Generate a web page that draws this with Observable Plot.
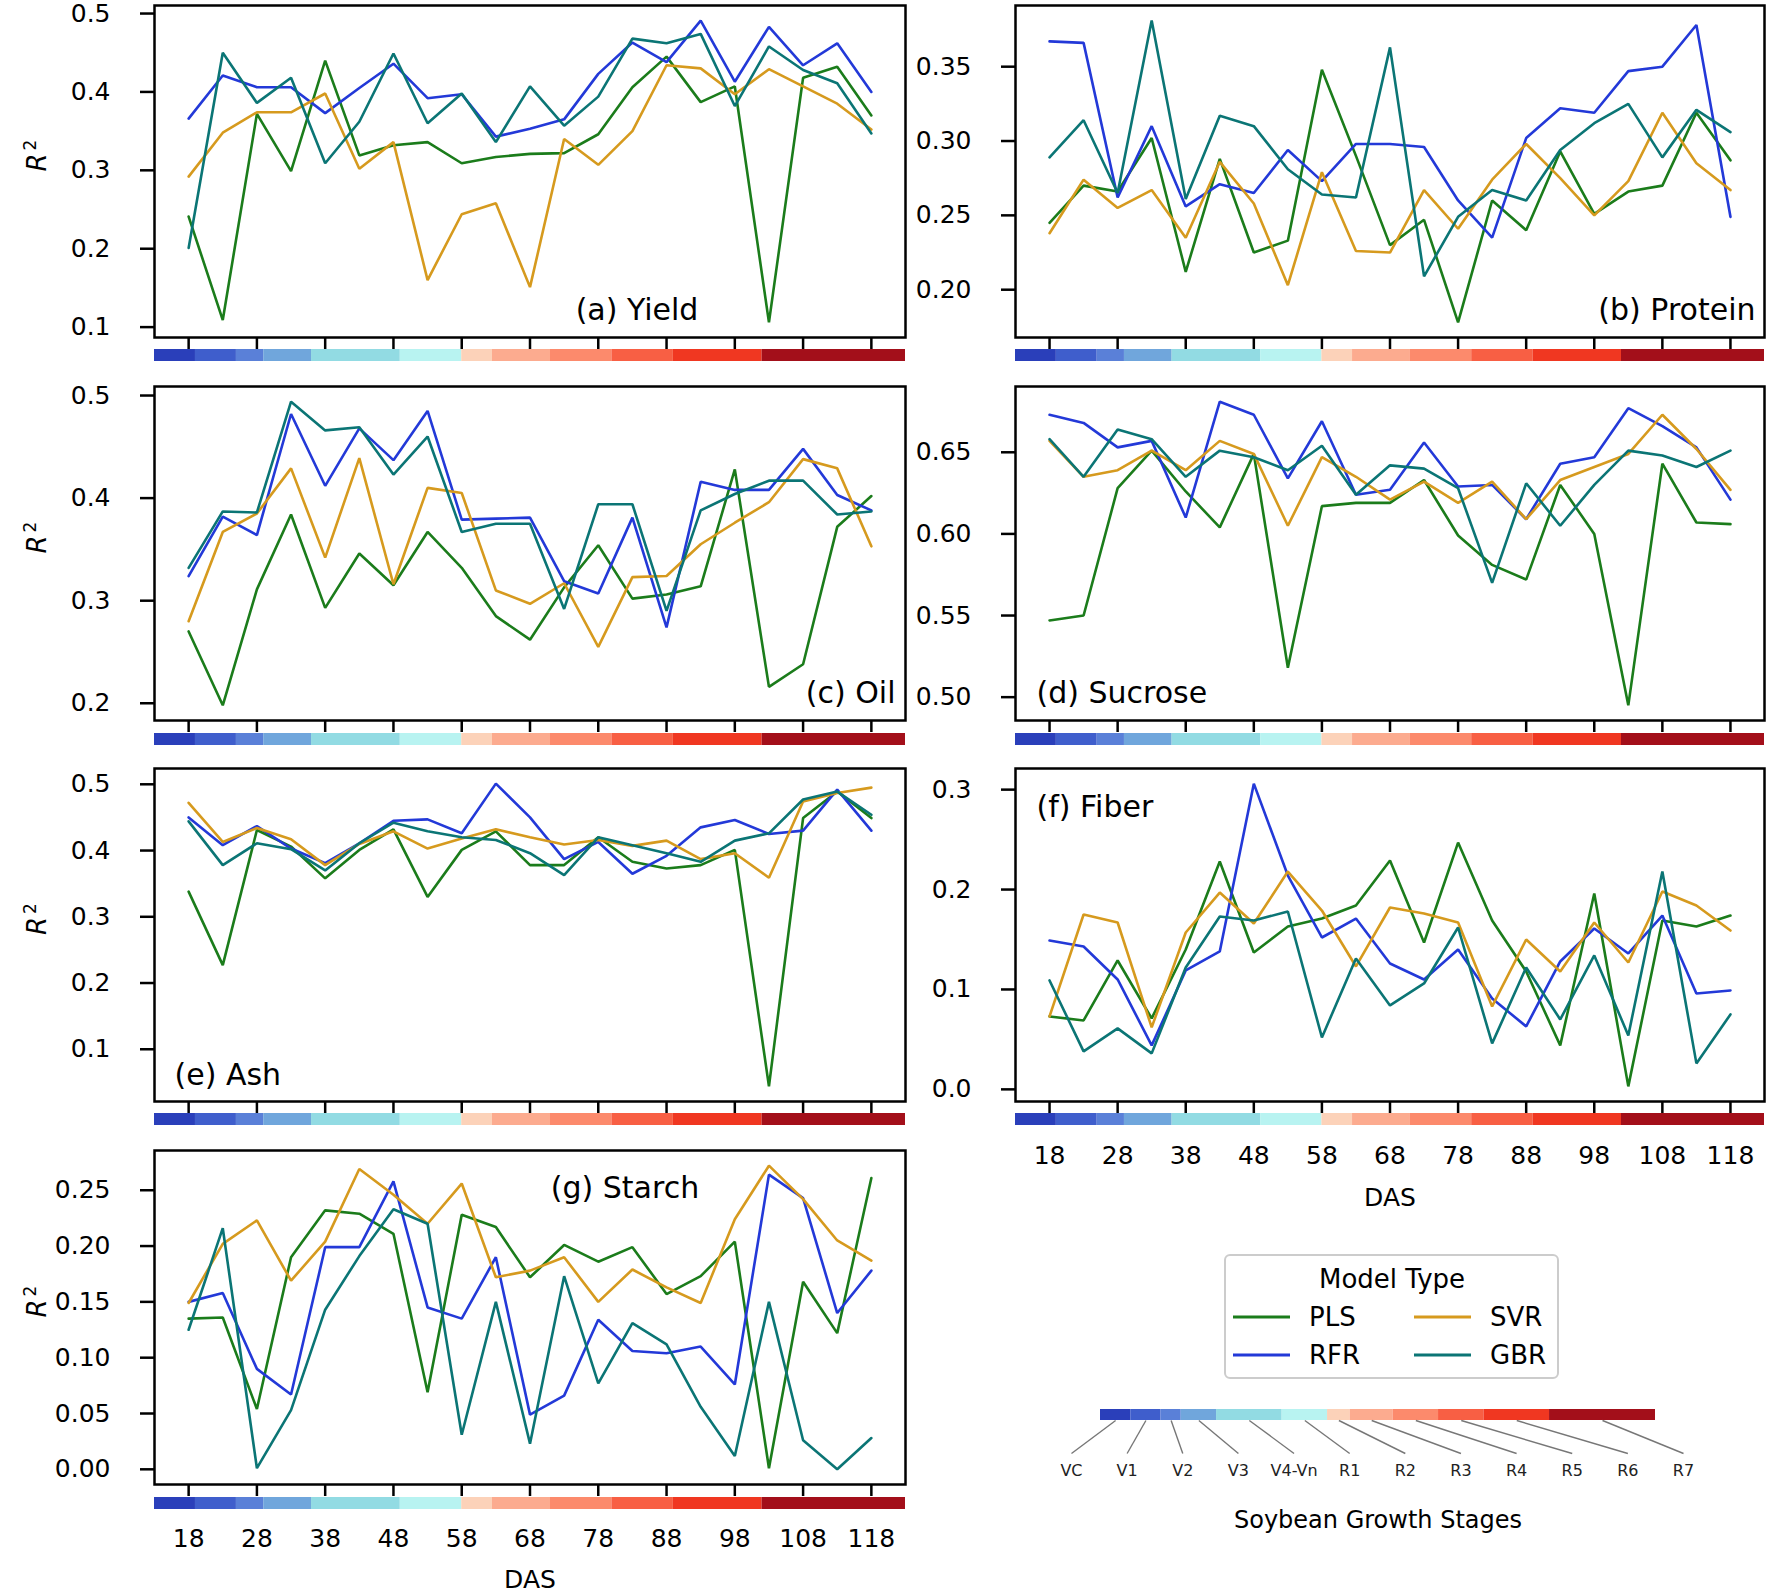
<!DOCTYPE html>
<html><head><meta charset="utf-8">
<script src="https://cdn.jsdelivr.net/npm/d3@7"></script>
<script src="https://cdn.jsdelivr.net/npm/@observablehq/plot@0.6"></script>
<style>
html,body{margin:0;padding:0;background:#fff;}
#fig{position:relative;width:1770px;height:1594px;background:#fff;font-family:"DejaVu Sans",sans-serif;overflow:hidden;}
</style></head><body><div id="fig"></div>
<script>
// ---------- data ----------
const das = [18,23,28,33,38,43,48,53,58,63,68,73,78,83,88,93,98,103,108,113,118];
const xTicks = [18,28,38,48,58,68,78,88,98,108,118];
const models = ["PLS","RFR","SVR","GBR"];
const modelColors = ["#1b7c1b","#2339d8","#d69a1e","#0b7575"];

const stages = ["VC","V1","V2","V3","V4-Vn","R1","R2","R3","R4","R5","R6","R7"];
const stageStart = [13,19,25,29,36,49,58,62.5,71,80,89,102];
const stageEnd   = [19,25,29,36,49,58,62.5,71,80,89,102,123];
const stageColors = ["#2a3fba","#3f5ecc","#5a80d8","#70a6dc","#92dbe3","#b8f3f1","#fcd2b9","#fcab8f","#fc8a6c","#f85f44","#f03721","#a30f1a"];

const yieldPLS = [0.241,0.109,0.372,0.299,0.440,0.319,0.332,0.336,0.309,0.317,0.321,0.322,0.346,0.406,0.445,0.387,0.407,0.106,0.418,0.432,0.370];
const yieldRFR = [0.366,0.421,0.406,0.406,0.373,0.405,0.436,0.392,0.397,0.343,0.353,0.365,0.423,0.463,0.438,0.491,0.413,0.483,0.434,0.462,0.400];
const yieldSVR = [0.292,0.348,0.374,0.374,0.398,0.302,0.336,0.160,0.244,0.258,0.151,0.340,0.307,0.350,0.434,0.430,0.397,0.429,0.407,0.385,0.352];
const yieldGBR = [0.201,0.450,0.386,0.418,0.309,0.362,0.449,0.360,0.398,0.336,0.407,0.357,0.394,0.468,0.462,0.474,0.382,0.458,0.428,0.411,0.347];

const proteinPLS = [0.245,0.270,0.266,0.302,0.212,0.288,0.225,0.233,0.348,0.290,0.230,0.247,0.178,0.260,0.240,0.293,0.251,0.266,0.270,0.319,0.287];
const proteinRFR = [0.367,0.366,0.262,0.310,0.256,0.271,0.265,0.294,0.273,0.298,0.298,0.296,0.260,0.235,0.302,0.322,0.319,0.347,0.350,0.378,0.249];
const proteinSVR = [0.238,0.274,0.255,0.267,0.235,0.286,0.258,0.203,0.279,0.226,0.225,0.267,0.241,0.274,0.298,0.275,0.250,0.273,0.319,0.285,0.267];
const proteinGBR = [0.289,0.314,0.265,0.381,0.261,0.317,0.310,0.281,0.264,0.262,0.363,0.209,0.249,0.267,0.260,0.294,0.312,0.325,0.289,0.321,0.306];

const oilPLS = [0.270,0.198,0.311,0.384,0.293,0.346,0.315,0.367,0.332,0.285,0.262,0.313,0.354,0.302,0.306,0.314,0.428,0.216,0.238,0.372,0.402];
const oilRFR = [0.324,0.382,0.364,0.482,0.412,0.468,0.437,0.485,0.379,0.380,0.381,0.319,0.307,0.381,0.274,0.416,0.408,0.408,0.448,0.403,0.388];
const oilSVR = [0.280,0.367,0.385,0.429,0.342,0.439,0.316,0.410,0.405,0.310,0.297,0.317,0.255,0.323,0.324,0.355,0.376,0.396,0.438,0.429,0.353];
const oilGBR = [0.332,0.387,0.386,0.494,0.466,0.469,0.423,0.460,0.367,0.375,0.375,0.292,0.394,0.394,0.290,0.388,0.404,0.417,0.417,0.384,0.387];

const sucrosePLS = [0.547,0.550,0.628,0.651,0.626,0.604,0.649,0.518,0.617,0.619,0.619,0.633,0.599,0.581,0.572,0.630,0.600,0.495,0.643,0.607,0.606];
const sucroseRFR = [0.673,0.668,0.653,0.657,0.610,0.681,0.673,0.634,0.669,0.624,0.627,0.656,0.629,0.630,0.609,0.643,0.647,0.677,0.666,0.653,0.621];
const sucroseSVR = [0.657,0.635,0.639,0.651,0.639,0.657,0.649,0.605,0.647,0.635,0.621,0.632,0.619,0.632,0.609,0.633,0.641,0.649,0.673,0.652,0.627];
const sucroseGBR = [0.658,0.635,0.664,0.658,0.635,0.651,0.647,0.639,0.654,0.624,0.642,0.640,0.628,0.570,0.631,0.605,0.630,0.651,0.648,0.641,0.651];

const ashPLS = [0.338,0.227,0.431,0.406,0.358,0.401,0.432,0.330,0.401,0.429,0.378,0.378,0.420,0.383,0.373,0.378,0.401,0.044,0.449,0.489,0.449];
const ashRFR = [0.450,0.408,0.437,0.403,0.381,0.411,0.445,0.447,0.426,0.501,0.450,0.387,0.413,0.365,0.392,0.435,0.446,0.425,0.430,0.492,0.430];
const ashSVR = [0.472,0.413,0.434,0.417,0.378,0.410,0.429,0.403,0.418,0.432,0.420,0.409,0.416,0.407,0.415,0.387,0.396,0.359,0.474,0.487,0.495];
const ashGBR = [0.444,0.378,0.411,0.402,0.370,0.411,0.442,0.429,0.420,0.416,0.396,0.363,0.420,0.408,0.396,0.383,0.415,0.426,0.477,0.489,0.454];

const fiberPLS = [0.073,0.069,0.129,0.071,0.140,0.228,0.137,0.163,0.171,0.184,0.229,0.147,0.247,0.169,0.118,0.044,0.196,0.003,0.169,0.163,0.174];
const fiberRFR = [0.149,0.143,0.110,0.044,0.119,0.138,0.306,0.214,0.152,0.171,0.126,0.110,0.140,0.091,0.063,0.128,0.161,0.136,0.174,0.096,0.099];
const fiberSVR = [0.073,0.175,0.167,0.062,0.157,0.197,0.166,0.218,0.179,0.123,0.182,0.176,0.167,0.083,0.150,0.118,0.167,0.127,0.198,0.184,0.159];
const fiberGBR = [0.109,0.038,0.061,0.036,0.122,0.173,0.169,0.178,0.052,0.131,0.084,0.106,0.162,0.046,0.122,0.070,0.134,0.054,0.218,0.026,0.075];

const starchPLS = [0.135,0.136,0.054,0.190,0.232,0.229,0.211,0.069,0.228,0.217,0.172,0.201,0.186,0.199,0.157,0.173,0.204,0.001,0.168,0.122,0.261];
const starchRFR = [0.150,0.158,0.090,0.067,0.199,0.199,0.258,0.145,0.135,0.190,0.049,0.066,0.134,0.106,0.104,0.110,0.076,0.264,0.243,0.140,0.178];
const starchSVR = [0.149,0.202,0.223,0.169,0.204,0.269,0.246,0.220,0.256,0.172,0.178,0.190,0.150,0.179,0.163,0.149,0.224,0.272,0.242,0.205,0.187];
const starchGBR = [0.125,0.216,0.001,0.053,0.143,0.191,0.233,0.220,0.031,0.150,0.023,0.173,0.077,0.131,0.112,0.056,0.012,0.150,0.026,0.000,0.028];

const ticksA = [0.1,0.2,0.3,0.4,0.5];
const ticksB = [0.20,0.25,0.30,0.35];
const ticksC = [0.2,0.3,0.4,0.5];
const ticksD = [0.50,0.55,0.60,0.65];
const ticksE = [0.1,0.2,0.3,0.4,0.5];
const ticksF = [0.0,0.1,0.2,0.3];
const ticksG = [0.00,0.05,0.10,0.15,0.20,0.25];

// ---------- layout ----------
const FONT = "DejaVu Sans";
const TICKFS = 25;
const rowFrameTop = [5, 386, 768, 1150];
const rowFrameBottom = [337, 720, 1101, 1484];
const rowBarTop = [349, 733, 1113, 1497];
const barH = 12;
const colSvgLeft = [0, 910];
const colSvgWidth = [910, 860];
const colFrameLeft = [154, 1015];
const colFrameRight = [905, 1764];

const panels = [
  {series:[yieldPLS,yieldRFR,yieldSVR,yieldGBR], label:"(a) Yield", row:0, col:0, ticks:ticksA, fmt:".1f", anchor:"bottom", ta:"middle", dx:107, dy:-27, r2:true},
  {series:[proteinPLS,proteinRFR,proteinSVR,proteinGBR], label:"(b) Protein", row:0, col:1, ticks:ticksB, fmt:".2f", anchor:"bottom-right", ta:"end", dx:-9, dy:-27},
  {series:[oilPLS,oilRFR,oilSVR,oilGBR], label:"(c) Oil", row:1, col:0, ticks:ticksC, fmt:".1f", anchor:"bottom-right", ta:"end", dx:-10, dy:-27, r2:true},
  {series:[sucrosePLS,sucroseRFR,sucroseSVR,sucroseGBR], label:"(d) Sucrose", row:1, col:1, ticks:ticksD, fmt:".2f", anchor:"bottom-left", ta:"start", dx:21, dy:-27},
  {series:[ashPLS,ashRFR,ashSVR,ashGBR], label:"(e) Ash", row:2, col:0, ticks:ticksE, fmt:".1f", anchor:"bottom-left", ta:"start", dx:20, dy:-26, r2:true},
  {series:[fiberPLS,fiberRFR,fiberSVR,fiberGBR], label:"(f) Fiber", row:2, col:1, ticks:ticksF, fmt:".1f", anchor:"top-left", ta:"start", dx:21, dy:39, xLabels:true, xPad:21, dasDy:72},
  {series:[starchPLS,starchRFR,starchSVR,starchGBR], label:"(g) Starch", row:3, col:0, ticks:ticksG, fmt:".2f", anchor:"top", ta:"middle", dx:95, dy:38, r2:true, xLabels:true, xPad:20, dasDy:70}
];

const fig = document.getElementById("fig");
function place(el, left, top) {
  el.style.position = "absolute";
  el.style.left = left + "px";
  el.style.top = top + "px";
  fig.appendChild(el);
}

const xExt = d3.extent(das);
const xPadD = (xExt[1] - xExt[0]) * 0.05;
const xDomain = [xExt[0] - xPadD, xExt[1] + xPadD];
const stageIdx = d3.range(stages.length);

for (const p of panels) {
  const rows = [];
  models.forEach((m, k) => p.series[k].forEach((v, i) => rows.push({das: das[i], value: v, model: m})));
  const [lo, hi] = d3.extent(rows, d => d.value);
  const pad = (hi - lo) * 0.05;
  const mL = colFrameLeft[p.col] - colSvgLeft[p.col];
  const mR = colSvgLeft[p.col] + colSvgWidth[p.col] - colFrameRight[p.col];
  const fTop = rowFrameTop[p.row], fBot = rowFrameBottom[p.row];
  const mT = 10, mB = 16;

  const main = Plot.plot({
    width: colSvgWidth[p.col],
    height: fBot - fTop + mT + mB,
    marginLeft: mL, marginRight: mR, marginTop: mT, marginBottom: mB,
    x: {domain: xDomain, axis: null},
    y: {domain: [lo - pad, hi + pad], axis: null},
    color: {domain: models, range: modelColors},
    style: {background: "transparent", fontFamily: FONT, fontSize: TICKFS + "px", color: "black", overflow: "visible"},
    marks: [
      Plot.axisY({ticks: p.ticks, tickFormat: d3.format(p.fmt), tickSize: 14, tickPadding: 30, strokeWidth: 2.5, fontSize: TICKFS, label: null}),
      Plot.axisX({ticks: xTicks, tickSize: 12, tickFormat: () => "", strokeWidth: 2.5, label: null}),
      Plot.line(rows, {x: "das", y: "value", stroke: "model", z: "model", strokeWidth: 2.6, strokeLinejoin: "miter"}),
      Plot.frame({stroke: "black", strokeWidth: 2.5}),
      Plot.text([p.label], {text: d => d, frameAnchor: p.anchor, lineAnchor: "middle", textAnchor: p.ta, dx: p.dx, dy: p.dy, fontSize: 30, fill: "black"}),
      p.r2 ? Plot.text(["R2"], {text: d => d, frameAnchor: "left", lineAnchor: "middle", dx: -117, rotate: -90, fontSize: 26, fill: "black"}) : null
    ]
  });
  // italic R with superscript 2
  main.querySelectorAll("text").forEach(t => {
    if (t.textContent === "R2") {
      t.textContent = "";
      const ns = "http://www.w3.org/2000/svg";
      const a = document.createElementNS(ns, "tspan");
      a.setAttribute("font-style", "italic");
      a.textContent = "R";
      const b = document.createElementNS(ns, "tspan");
      b.setAttribute("font-size", "17");
      b.setAttribute("dy", "-0.6em");
      b.setAttribute("dx", "3");
      b.textContent = "2";
      t.appendChild(a); t.appendChild(b);
    }
  });
  place(main, colSvgLeft[p.col], fTop - mT);

  const extraB = p.xLabels ? 100 : 0;
  const bar = Plot.plot({
    width: colSvgWidth[p.col],
    height: barH + extraB,
    marginLeft: mL, marginRight: mR, marginTop: 0, marginBottom: extraB,
    x: {domain: xDomain, axis: null},
    color: {type: "identity"},
    style: {background: "transparent", fontFamily: FONT, fontSize: TICKFS + "px", color: "black", overflow: "visible"},
    marks: [
      Plot.rect(stageIdx, {x1: i => stageStart[i], x2: i => stageEnd[i], fill: i => stageColors[i]}),
      p.xLabels ? Plot.axisX({ticks: xTicks, tickSize: 0, tickPadding: p.xPad, fontSize: TICKFS, label: null}) : null,
      p.xLabels ? Plot.text(["DAS"], {text: d => d, frameAnchor: "bottom", lineAnchor: "middle", dy: p.dasDy, fontSize: TICKFS, fill: "black"}) : null
    ]
  });
  place(bar, colSvgLeft[p.col], rowBarTop[p.row]);
}

// ---------- model legend ----------
const leg = document.createElement("div");
leg.style.width = "331px";
leg.style.height = "121px";
leg.style.border = "2px solid #cccccc";
leg.style.borderRadius = "6px";
leg.style.background = "#fff";
place(leg, 1224, 1254);
const lsvg = d3.select(leg).append("svg").attr("width", 331).attr("height", 121)
  .style("font-family", FONT).style("font-size", "26px");
lsvg.append("text").attr("x", 166).attr("y", 23).attr("text-anchor", "middle").attr("dominant-baseline", "central").text("Model Type");
const legPos = [[0,0],[0,1],[1,0],[1,1]]; // PLS, RFR (col 0), SVR, GBR (col 1)
models.forEach((m, k) => {
  const [c, r] = legPos[k];
  const x0 = c === 0 ? 7 : 188;
  const y0 = r === 0 ? 61 : 99;
  lsvg.append("line").attr("x1", x0).attr("x2", x0 + 57).attr("y1", y0).attr("y2", y0)
    .attr("stroke", modelColors[k]).attr("stroke-width", 3);
  lsvg.append("text").attr("x", x0 + 76).attr("y", y0).attr("dominant-baseline", "central").text(m);
});

// ---------- growth stage legend ----------
const labelX = d3.scaleLinear([0, stages.length - 1], [7.25, 128.55]);
const gs = Plot.plot({
  width: 675, height: 140,
  marginLeft: 60, marginRight: 60, marginTop: 4, marginBottom: 125,
  x: {domain: xDomain, axis: null},
  y: {domain: [0, 1], range: [15, 48], axis: null},
  color: {type: "identity"},
  style: {background: "transparent", fontFamily: FONT, color: "black", overflow: "visible"},
  marks: [
    Plot.rect(stageIdx, {x1: i => stageStart[i], x2: i => stageEnd[i], fill: i => stageColors[i]}),
    Plot.link(stageIdx, {x1: i => (stageStart[i] + stageEnd[i]) / 2, x2: i => labelX(i), y1: 0, y2: 1, stroke: "#777", strokeWidth: 1.4}),
    Plot.text(stageIdx, {x: i => labelX(i), y: 1, dy: 17, lineAnchor: "middle", text: i => stages[i], fontSize: 16, fill: "#222"}),
    Plot.text(["Soybean Growth Stages"], {text: d => d, frameAnchor: "bottom", lineAnchor: "middle", dy: 100, fontSize: 24, fill: "black"})
  ]
});
place(gs, 1040, 1405);
</script></body></html>
